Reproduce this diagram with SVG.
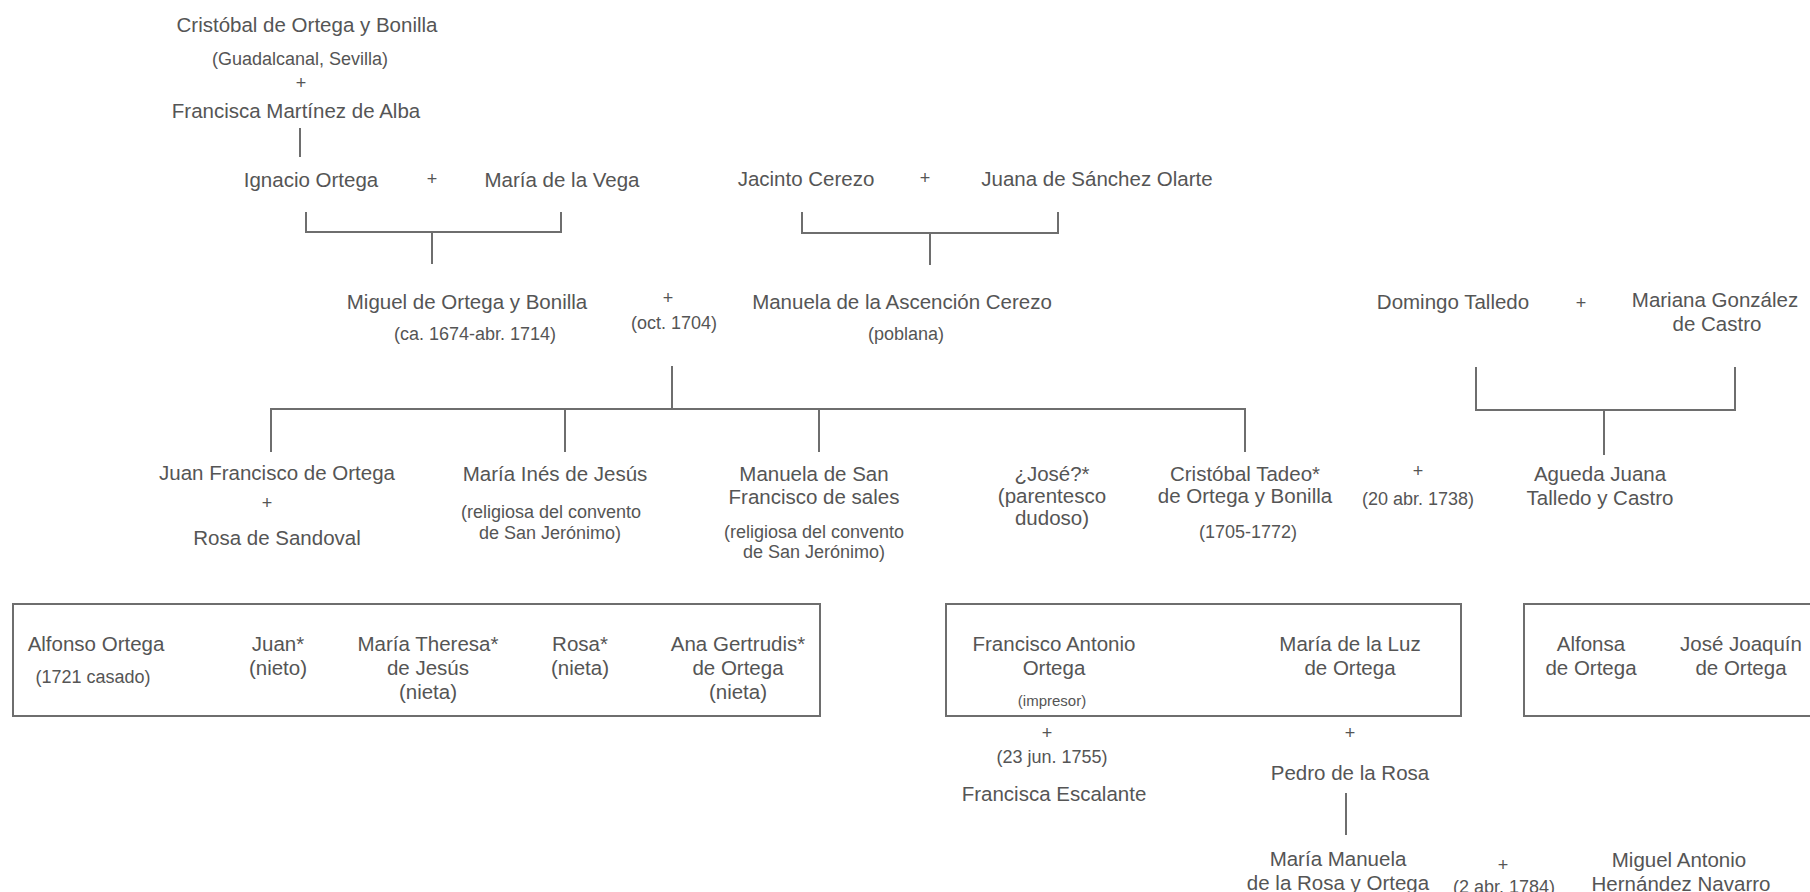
<svg xmlns="http://www.w3.org/2000/svg" width="1810" height="892" viewBox="0 0 1810 892">
<style>
text{font-family:"Liberation Sans",Arial,sans-serif;fill:#555;text-anchor:middle;dominant-baseline:central}
.n{font-size:20.5px}
.s{font-size:18px}
.p{font-size:18px}
.i{font-size:15px}
.ln{fill:none;stroke:#6e6e6e;stroke-width:2}
.bx{fill:none;stroke:#6e6e6e;stroke-width:2}
</style>
<rect width="1810" height="892" fill="#fff"/>
<g id="connectors">
<path class="ln" d="M300,128 V157"/>
<path class="ln" d="M306,212 V232 H561 V212 M432,232 V264"/>
<path class="ln" d="M802,212 V233 H1058 V212 M930,233 V265"/>
<path class="ln" d="M672,366 V409 M271,452 V409 H1245 V452 M565,409 V452 M819,409 V452"/>
<path class="ln" d="M1476,367 V410 H1735 V367 M1604,410 V455"/>
<path class="ln" d="M1346,793 V835"/>
</g>
<g id="cristobal">
<text class="n" x="307" y="24">Cristóbal de Ortega y Bonilla</text>
<text class="s" x="300" y="59">(Guadalcanal, Sevilla)</text>
<text class="p" x="301" y="83">+</text>
<text class="n" x="296" y="110">Francisca Martínez de Alba</text>
</g>
<g id="ignacio">
<text class="n" x="311" y="179">Ignacio Ortega</text>
<text class="p" x="432" y="179">+</text>
<text class="n" x="562" y="179">María de la Vega</text>
</g>
<g id="jacinto">
<text class="n" x="806" y="178">Jacinto Cerezo</text>
<text class="p" x="925" y="178">+</text>
<text class="n" x="1097" y="178">Juana de Sánchez Olarte</text>
</g>
<g id="miguel">
<text class="n" x="467" y="301">Miguel de Ortega y Bonilla</text>
<text class="s" x="475" y="334">(ca. 1674-abr. 1714)</text>
<text class="p" x="668" y="298">+</text>
<text class="s" x="674" y="323">(oct. 1704)</text>
<text class="n" x="902" y="301">Manuela de la Ascención Cerezo</text>
<text class="s" x="906" y="334">(poblana)</text>
</g>
<g id="talledo">
<text class="n" x="1453" y="301">Domingo Talledo</text>
<text class="p" x="1581" y="303">+</text>
<text class="n" x="1715" y="299">Mariana González</text>
<text class="n" x="1717" y="323">de Castro</text>
</g>
<g id="juanfrancisco">
<text class="n" x="277" y="472">Juan Francisco de Ortega</text>
<text class="p" x="267" y="503">+</text>
<text class="n" x="277" y="537">Rosa de Sandoval</text>
</g>
<g id="mariaines">
<text class="n" x="555" y="473">María Inés de Jesús</text>
<text class="s" x="551" y="512">(religiosa del convento</text>
<text class="s" x="550" y="533">de San Jerónimo)</text>
</g>
<g id="manuelasan">
<text class="n" x="814" y="473">Manuela de San</text>
<text class="n" x="814" y="496">Francisco de sales</text>
<text class="s" x="814" y="532">(religiosa del convento</text>
<text class="s" x="814" y="552">de San Jerónimo)</text>
</g>
<g id="jose">
<text class="n" x="1052" y="473">¿José?*</text>
<text class="n" x="1052" y="495">(parentesco</text>
<text class="n" x="1052" y="517">dudoso)</text>
</g>
<g id="cristobaltadeo">
<text class="n" x="1245" y="473">Cristóbal Tadeo*</text>
<text class="n" x="1245" y="495">de Ortega y Bonilla</text>
<text class="s" x="1248" y="532">(1705-1772)</text>
<text class="p" x="1418" y="471">+</text>
<text class="s" x="1418" y="499">(20 abr. 1738)</text>
</g>
<g id="agueda">
<text class="n" x="1600" y="473">Agueda Juana</text>
<text class="n" x="1600" y="497">Talledo y Castro</text>
</g>
<g id="box1">
<rect class="bx" x="13" y="604" width="807" height="112"/>
<text class="n" x="96" y="643">Alfonso Ortega</text>
<text class="s" x="93" y="677">(1721 casado)</text>
<text class="n" x="278" y="643">Juan*</text>
<text class="n" x="278" y="667">(nieto)</text>
<text class="n" x="428" y="643">María Theresa*</text>
<text class="n" x="428" y="667">de Jesús</text>
<text class="n" x="428" y="691">(nieta)</text>
<text class="n" x="580" y="643">Rosa*</text>
<text class="n" x="580" y="667">(nieta)</text>
<text class="n" x="738" y="643">Ana Gertrudis*</text>
<text class="n" x="738" y="667">de Ortega</text>
<text class="n" x="738" y="691">(nieta)</text>
</g>
<g id="box2">
<rect class="bx" x="946" y="604" width="515" height="112"/>
<text class="n" x="1054" y="643">Francisco Antonio</text>
<text class="n" x="1054" y="667">Ortega</text>
<text class="i" x="1052" y="700">(impresor)</text>
<text class="n" x="1350" y="643">María de la Luz</text>
<text class="n" x="1350" y="667">de Ortega</text>
</g>
<g id="box3">
<rect class="bx" x="1524" y="604" width="320" height="112"/>
<text class="n" x="1591" y="643">Alfonsa</text>
<text class="n" x="1591" y="667">de Ortega</text>
<text class="n" x="1741" y="643">José Joaquín</text>
<text class="n" x="1741" y="667">de Ortega</text>
</g>
<g id="escalante">
<text class="p" x="1047" y="733">+</text>
<text class="s" x="1052" y="757">(23 jun. 1755)</text>
<text class="n" x="1054" y="793">Francisca Escalante</text>
</g>
<g id="pedro">
<text class="p" x="1350" y="733">+</text>
<text class="n" x="1350" y="772">Pedro de la Rosa</text>
</g>
<g id="mariamanuela">
<text class="n" x="1338" y="858">María Manuela</text>
<text class="n" x="1338" y="882">de la Rosa y Ortega</text>
<text class="p" x="1503" y="865">+</text>
<text class="s" x="1504" y="887">(2 abr. 1784)</text>
</g>
<g id="miguelantonio">
<text class="n" x="1679" y="859">Miguel Antonio</text>
<text class="n" x="1681" y="883">Hernández Navarro</text>
</g>
</svg>
